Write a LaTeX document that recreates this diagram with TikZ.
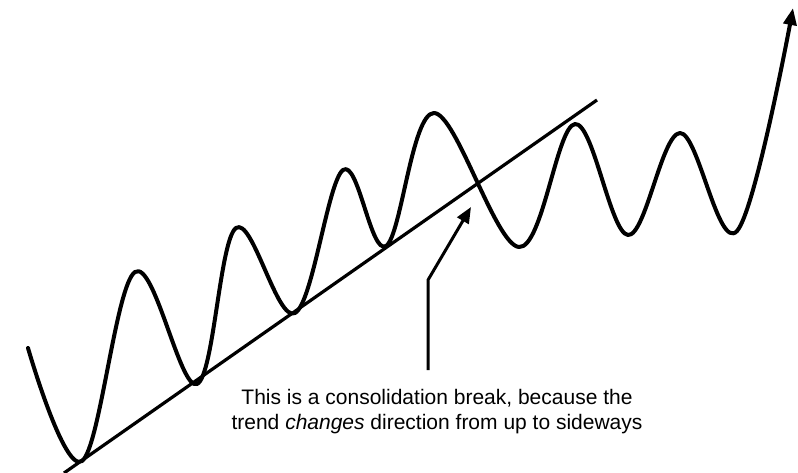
\documentclass[tikz,border=0pt]{standalone}
\usepackage{fontspec}
\setmainfont{Liberation Sans}
\usetikzlibrary{arrows.meta,positioning,calc}

\begin{document}
\begin{tikzpicture}[
  x=1pt,y=-1pt,
  price/.style={line width=4pt,line join=round,line cap=round},
  trend/.style={line width=3.2pt},
  pointer/.style={-{Triangle[length=16pt,width=13pt]},line width=3pt},
  note/.style={align=center,font=\fontsize{21}{25}\selectfont,inner sep=0pt},
]
\useasboundingbox (0,0) rectangle (798,472);
% swings of the price
\coordinate (s0) at (28,348);
\coordinate (t1) at (82,461);
\coordinate (p1) at (135,272);
\coordinate (t2) at (197,384);
\coordinate (p2) at (236,228);
\coordinate (t3) at (295,313);
\coordinate (p3) at (343,170);
\coordinate (t4) at (386,246);
\coordinate (p4) at (434,113);
\coordinate (t5) at (519,247);
\coordinate (p5) at (575,124);
\coordinate (t6) at (628,235);
\coordinate (p6) at (680,133);
\coordinate (t7) at (737,231);
\coordinate (up) at (793,8);
\draw[price,-{Triangle[length=17pt,width=13pt]}] plot[smooth,tension=0.6] coordinates
  {(s0) (t1) (p1) (t2) (p2) (t3) (p3) (t4) (p4) (t5) (p5) (t6) (p6) (t7) (up)};

% trend line
\coordinate (tl) at (64,473);
\coordinate (tr) at (597,100);
\draw[trend] (tl) -- (tr);

% label and pointer
\node[note] (note) at (437,412) {This is a consolidation break, because the\\
  trend \textit{changes} direction from up to sideways};
\coordinate (foot) at (428,370);
\coordinate (knee) at (428,280);
\coordinate (brk) at (471,207);
\draw[pointer] (foot) -- (knee) -- (brk);
\end{tikzpicture}
\end{document}
